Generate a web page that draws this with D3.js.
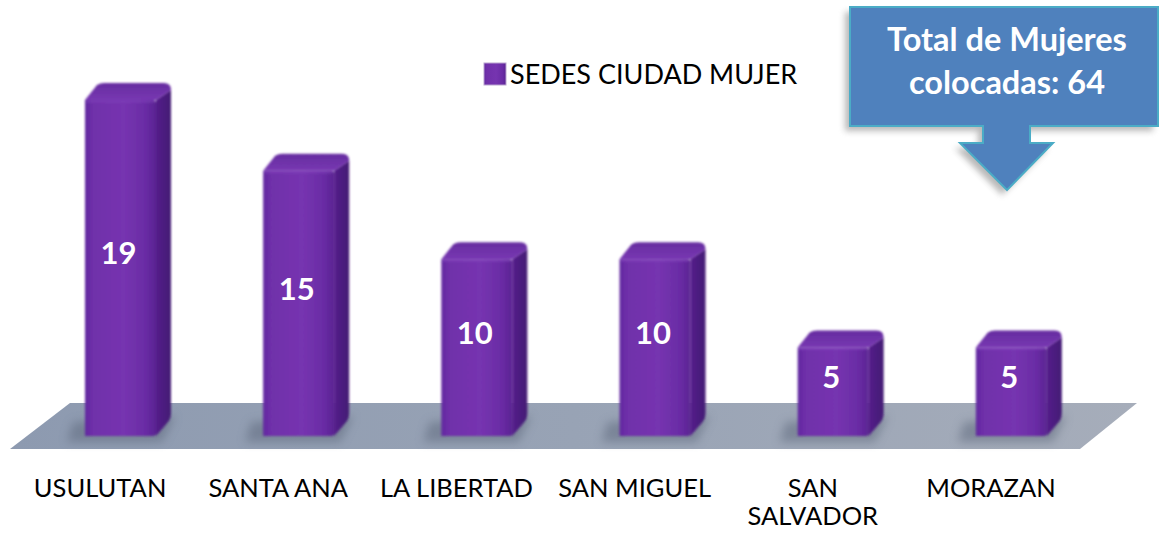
<!DOCTYPE html>
<html><head><meta charset="utf-8">
<script src="https://cdn.jsdelivr.net/npm/d3@7/dist/d3.min.js"></script>
<style>html,body{margin:0;padding:0;background:#fff;}svg{display:block;}</style>
</head><body>
<script>
const categories = ["USULUTAN","SANTA ANA","LA LIBERTAD","SAN MIGUEL","SAN SALVADOR","MORAZAN"];
const values = [19,15,10,10,5,5];
const seriesName = "SEDES CIUDAD MUJER";
const calloutLines = ["Total de Mujeres","colocadas: 64"];

const W = 1160, H = 538;
const svg = d3.select("body").append("svg").attr("width", W).attr("height", H);
const defs = svg.append("defs");

// gradients
const gFront = defs.append("linearGradient").attr("id","gFront").attr("x1","0").attr("x2","1").attr("y1","0").attr("y2","0");
[[0,"#6228a0"],[0.12,"#7030aa"],[0.55,"#7634b0"],[0.85,"#6a2ca5"],[1,"#5a2392"]].forEach(s=>gFront.append("stop").attr("offset",s[0]).attr("stop-color",s[1]));
const gSide = defs.append("linearGradient").attr("id","gSide").attr("x1","0").attr("x2","1").attr("y1","0").attr("y2","0");
[[0,"#55208b"],[1,"#431a74"]].forEach(s=>gSide.append("stop").attr("offset",s[0]).attr("stop-color",s[1]));
const gTop = defs.append("linearGradient").attr("id","gTop").attr("x1","0").attr("x2","0").attr("y1","0").attr("y2","1");
[[0,"#662ca0"],[1,"#7838b2"]].forEach(s=>gTop.append("stop").attr("offset",s[0]).attr("stop-color",s[1]));
const gFloor = defs.append("linearGradient").attr("id","gFloor").attr("x1","0").attr("x2","1").attr("y1","0").attr("y2","0");
[[0,"#8d9ab0"],[0.5,"#98a3b5"],[1,"#a6adba"]].forEach(s=>gFloor.append("stop").attr("offset",s[0]).attr("stop-color",s[1]));
const blur = defs.append("filter").attr("id","blur").attr("x","-50%").attr("y","-50%").attr("width","200%").attr("height","200%");
blur.append("feGaussianBlur").attr("stdDeviation",5);
const soft = defs.append("filter").attr("id","soft");
soft.append("feGaussianBlur").attr("stdDeviation",0.8);
const shadowF = defs.append("filter").attr("id","shadowF").attr("x","-20%").attr("y","-20%").attr("width","140%").attr("height","140%");
shadowF.append("feGaussianBlur").attr("stdDeviation",3);

// scales
const x = d3.scaleBand().domain(categories).range([11, 1080]).paddingInner(0).paddingOuter(0);
const y = d3.scaleLinear().domain([0, 19]).range([419, 83]);
const barOffset = 74, barW = 71, dx = 15, dy = 17;

// floor
const floorTop = 403, floorBot = 449;
const floor = [[70,floorTop],[1137,floorTop],[1080,floorBot],[10,floorBot]];
svg.append("path").attr("d", d3.line()(floor)+"Z").attr("fill","url(#gFloor)");

// bar shadows on floor
svg.append("g").selectAll("path").data(categories).join("path")
  .attr("d", d => {
    const x0 = x(d)+barOffset, yb = y(0)+dy;
    return d3.line()([[x0-12,yb-14],[x0+barW+dx+4,yb-20],[x0+barW+6,yb+6],[x0-18,yb+6]])+"Z";
  })
  .attr("fill","#5c667a").attr("opacity",0.5).attr("filter","url(#blur)");

// bars
const bars = svg.append("g").selectAll("g").data(categories).join("g").attr("filter","url(#soft)");
bars.each(function(d,i){
  const g = d3.select(this);
  const x0 = x(d)+barOffset, x1 = x0+barW;
  const yt = y(values[i]), yb = y(0);
  const ft = yt+dy, fb = yb+dy;
  const r = 7;
  // side face
  g.append("path").attr("d",
    `M${x1},${ft} L${x1+dx},${yt+r} L${x1+dx},${yb-r} Q${x1+dx},${yb} ${x1+dx-3},${yb+3} L${x1},${fb} Z`)
    .attr("fill","url(#gSide)");
  // top face
  g.append("path").attr("d",
    `M${x0},${ft} L${x0+dx-3},${yt+2} Q${x0+dx},${yt} ${x0+dx+4},${yt} L${x1+dx-r},${yt} Q${x1+dx},${yt} ${x1+dx},${yt+r} L${x1},${ft} Z`)
    .attr("fill","url(#gTop)");
  // front face
  g.append("path").attr("d",
    `M${x0},${ft} L${x1-3},${ft} Q${x1},${ft} ${x1},${ft+3} L${x1},${fb-3} Q${x1},${fb} ${x1-3},${fb} L${x0},${fb} Z`)
    .attr("fill","url(#gFront)");
  // subtle edge highlight
  g.append("path").attr("d",`M${x0+1},${ft+1.5} L${x1-2},${ft+1.5}`).attr("stroke","#8646c0").attr("stroke-width",2).attr("opacity",0.5);
});

// value labels
svg.append("g").selectAll("text").data(categories).join("text")
  .attr("x", d => x(d)+barOffset+barW/2-2)
  .attr("y", (d,i) => (y(values[i])+y(0))/2+2)
  .attr("dy","0.36em")
  .attr("text-anchor","middle")
  .attr("font-family","Lato, 'Open Sans', sans-serif")
  .attr("font-weight","bold")
  .attr("font-size",31)
  .attr("fill","#ffffff")
  .text((d,i)=>values[i]);

// category axis labels
const axisG = svg.append("g").attr("transform","translate(0,497)");
const axis = d3.axisBottom(x).tickSize(0).tickPadding(0);
axisG.call(axis);
axisG.select(".domain").remove();
axisG.selectAll(".tick text")
  .attr("font-family","Lato, 'Open Sans', sans-serif")
  .attr("font-size",25.5)
  .attr("fill","#000")
  .attr("y",0)
  .attr("dy",0)
  .each(function(d){
    const t = d3.select(this);
    t.text(null);
    const words = d.split(" ");
    const probe = t.append("tspan").text(d);
    const wdt = probe.node().getComputedTextLength();
    probe.remove();
    if (wdt > 170 && words.length > 1) {
      words.forEach((w,k)=> t.append("tspan").attr("x",0).attr("dy", k===0?0:28).text(w));
    } else {
      t.text(d);
    }
  });

// legend
const leg = svg.append("g");
leg.append("rect").attr("x",484).attr("y",63).attr("width",22).attr("height",22)
  .attr("fill","url(#gFront)").attr("stroke","#b9a4cf").attr("stroke-width",1);
leg.append("text").attr("x",510).attr("y",84)
  .attr("font-family","Lato, 'Open Sans', sans-serif").attr("font-size",27)
  .attr("fill","#000").text(seriesName);

// callout
const co = svg.append("g");
const calloutPath = `M850,7 L1158,7 L1158,126 L1030,126 L1030,143 L1053,143 L1007,190 L960,143 L983,143 L983,126 L850,126 Z`;
co.append("path").attr("d",calloutPath).attr("transform","translate(-5,5)").attr("fill","#7f7f7f").attr("opacity",0.55).attr("filter","url(#shadowF)");
co.append("path").attr("d",calloutPath).attr("fill","#4f81bd").attr("stroke","#4bacc6").attr("stroke-width",2);
co.selectAll("text.cl").data(calloutLines).join("text").attr("class","cl")
  .attr("x",1007).attr("y",(d,i)=>51+i*43)
  .attr("text-anchor","middle")
  .attr("font-family","Lato, 'Open Sans', sans-serif").attr("font-weight","bold").attr("font-size",32.5)
  .attr("fill","#fff").text(d=>d);
</script>
</body></html>
